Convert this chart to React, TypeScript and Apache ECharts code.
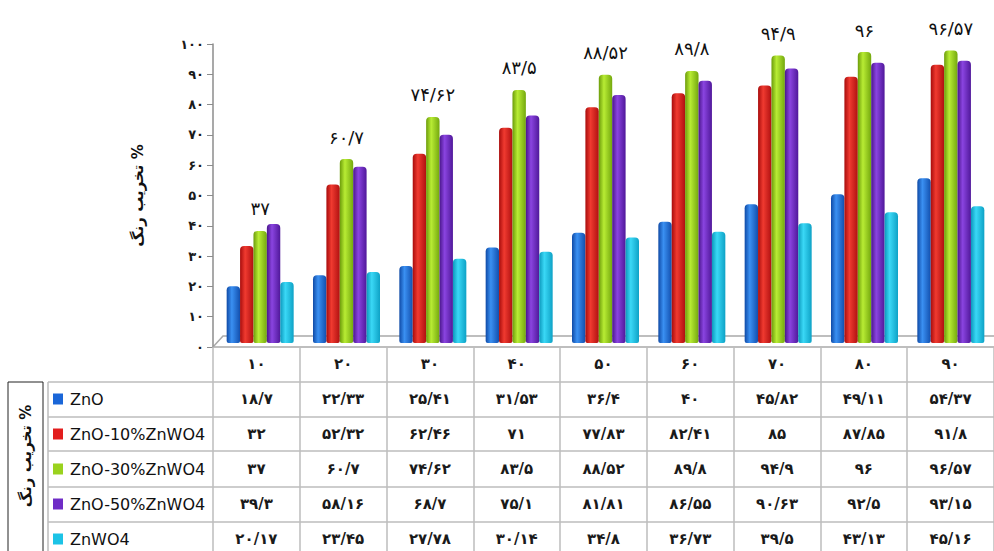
import React, { useEffect, useRef } from "react";
import * as echarts from "echarts";

const categories = [10, 20, 30, 40, 50, 60, 70, 80, 90];
const seriesNames = ["ZnO", "ZnO-10%ZnWO4", "ZnO-30%ZnWO4", "ZnO-50%ZnWO4", "ZnWO4"];
const znO = [18.7, 22.33, 25.41, 31.53, 36.4, 40, 45.82, 49.11, 54.37];
const znO10 = [32, 52.32, 62.46, 71, 77.83, 82.41, 85, 87.85, 91.8];
const znO30 = [37, 60.7, 74.62, 83.5, 88.52, 89.8, 94.9, 96, 96.57];
const znO50 = [39.3, 58.16, 68.7, 75.1, 81.81, 86.55, 90.63, 92.5, 93.15];
const znWO4 = [20.17, 23.45, 27.78, 30.14, 34.8, 36.73, 39.5, 43.13, 45.16];
const yTicks = [0, 10, 20, 30, 40, 50, 60, 70, 80, 90, 100];
const axisTitle = "\u200F% تخریب رنگ";

const baseColors = [
  ["#0f4aa6", "#3a90f2", "#124fae"],
  ["#a80c0c", "#f03a30", "#b01010"],
  ["#6c9c0a", "#b8ec34", "#74a80e"],
  ["#4a168c", "#8a44e0", "#50189a"],
  ["#0c98bc", "#3ad8f6", "#0ea2c6"],
];
const keyColors = ["#1a66d8", "#e21d1d", "#9ad21e", "#6f2cc6", "#1cc3e6"];

const FA = "۰۱۲۳۴۵۶۷۸۹";
const toFa = (v: number | string) =>
  String(v).replace(".", "/").replace(/\d/g, (d) => FA[+d]);

const PERSIAN_FONT = "DejaVu Sans";

export default function App() {
  const ref = useRef<HTMLDivElement>(null);
  useEffect(() => {
    if (!ref.current) return;
    const chart = echarts.init(ref.current, null, { renderer: "svg" });
    const rows = [znO, znO10, znO30, znO50, znWO4];
    const gridLeft = 213;
    const gridTop = 44;
    const gridW = 783;
    const gridH = 303;
    const lineColor = "#bdbdbd";

    const tableAxes = rows.map((row, i) => ({
      type: "category",
      gridIndex: 0,
      position: "bottom",
      offset: 35 * (i + 1),
      data: categories.map(String),
      axisLine: { show: false },
      axisTick: { show: false },
      axisLabel: {
        interval: 0,
        margin: 9,
        fontFamily: PERSIAN_FONT,
        fontSize: 15,
        fontWeight: "bold",
        color: "#1a1a1a",
        formatter: (_v: string, idx: number) => toFa(row[idx]),
      },
    }));

    const option: any = {
      animation: false,
      backgroundColor: "#ffffff",
      grid: [
        { left: gridLeft, top: gridTop, width: gridW, height: gridH },
        { left: gridLeft + 4, top: gridTop - 4, width: gridW, height: gridH },
      ],
      legend: {
        orient: "vertical",
        left: 53,
        top: 391,
        padding: 0,
        itemWidth: 10,
        itemHeight: 11,
        itemGap: 19,
        icon: "rect",
        selectedMode: false,
        data: seriesNames.map((n, i) => ({ name: n, itemStyle: { color: keyColors[i] } })),
        textStyle: {
          fontFamily: PERSIAN_FONT,
          fontSize: 16,
          lineHeight: 16,
          color: "#111",
          padding: [0, 0, 0, 2],
        },
      },
      xAxis: [
        {
          type: "category",
          gridIndex: 0,
          data: categories.map(String),
          axisLine: { show: true, lineStyle: { color: "#a9a9a9", width: 1.5 } },
          axisTick: {
            show: true,
            alignWithLabel: false,
            length: 210,
            lineStyle: { color: lineColor, width: 1.5 },
          },
          axisLabel: {
            interval: 0,
            margin: 9,
            fontFamily: PERSIAN_FONT,
            fontSize: 15,
            fontWeight: "bold",
            color: "#1a1a1a",
            formatter: (v: string) => toFa(v),
          },
        },
        ...tableAxes,
        {
          type: "category",
          gridIndex: 1,
          data: categories.map(String),
          show: false,
        },
      ],
      yAxis: [
        {
          type: "value",
          gridIndex: 0,
          min: 0,
          max: 100,
          interval: 10,
          name: axisTitle,
          nameLocation: "middle",
          nameRotate: 90,
          nameGap: 68,
          nameTextStyle: {
            fontFamily: PERSIAN_FONT,
            fontSize: 15,
            fontWeight: "bold",
            color: "#111",
          },
          axisLine: { show: true, lineStyle: { color: "#8c8c8c", width: 1.5 } },
          axisTick: { show: true, length: 6, lineStyle: { color: "#8c8c8c" } },
          splitLine: { show: false },
          axisLabel: {
            margin: 9,
            fontFamily: PERSIAN_FONT,
            fontSize: 13,
            fontWeight: "bold",
            color: "#1a1a1a",
            formatter: (v: number) => (yTicks.includes(v) ? toFa(v) : ""),
          },
        },
        {
          type: "value",
          gridIndex: 1,
          min: 0,
          max: 100,
          show: false,
          splitLine: { show: false },
        },
      ],
      series: rows.map((row, i) => ({
        type: "bar",
        name: seriesNames[i],
        xAxisIndex: 6,
        yAxisIndex: 1,
        data: row,
        barWidth: 13.4,
        barGap: "0%",
        itemStyle: {
          borderRadius: [4, 4, 2, 2],
          color: new echarts.graphic.LinearGradient(0, 0, 1, 0, [
            { offset: 0, color: baseColors[i][0] },
            { offset: 0.38, color: baseColors[i][1] },
            { offset: 1, color: baseColors[i][2] },
          ]),
        },
        label:
          i === 2
            ? {
                show: true,
                position: "top",
                distance: 13,
                fontFamily: PERSIAN_FONT,
                fontSize: 18,
                color: "#111",
                formatter: (p: any) => toFa(p.value),
              }
            : { show: false },
      })),
      graphic: [
        {
          type: "polyline",
          silent: true,
          shape: { points: [[213, 347], [223, 336], [996, 336]] },
          style: { stroke: "#a9a9a9", lineWidth: 1.5, fill: null },
          z: 0,
        },
        ...[382, 417, 451, 487, 522].map((y) => ({
          type: "line",
          silent: true,
          shape: { x1: 48, y1: y, x2: 996, y2: y },
          style: { stroke: lineColor, lineWidth: 1.5 },
        })),
        {
          type: "line",
          silent: true,
          shape: { x1: 48, y1: 382, x2: 48, y2: 560 },
          style: { stroke: lineColor, lineWidth: 1.5 },
        },
        {
          type: "rect",
          silent: true,
          shape: { x: 8, y: 382, width: 35, height: 180 },
          style: { stroke: "#222", lineWidth: 1, fill: "#fff" },
        },
        {
          type: "text",
          silent: true,
          x: 26,
          y: 456,
          rotation: Math.PI / 2,
          style: {
            text: axisTitle,
            fontFamily: PERSIAN_FONT,
            fontSize: 15,
            fontWeight: "bold",
            fill: "#111",
            align: "center",
            verticalAlign: "middle",
          },
        },
      ],
    };
    chart.setOption(option);
    return () => chart.dispose();
  }, []);
  return (
    <div
      ref={ref}
      style={{ position: "fixed", left: 0, top: 0, width: 994, height: 551 }}
    />
  );
}
